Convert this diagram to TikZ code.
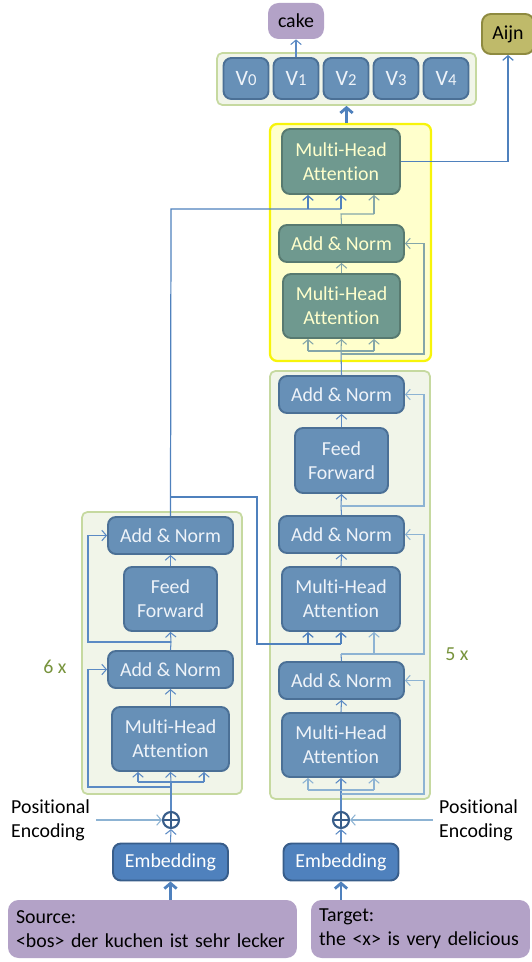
\documentclass[tikz,border=0pt]{standalone}
\usepackage{fontspec}
\setmainfont{Carlito}[Ligatures=NoCommon]
\usepackage{tikz}
\usetikzlibrary{arrows.meta}

\definecolor{bfill}{HTML}{6790B7}
\definecolor{bedge}{HTML}{4B7096}
\definecolor{btext}{HTML}{EEF3F9}
\definecolor{tfill}{HTML}{6F998F}
\definecolor{tedge}{HTML}{587A70}
\definecolor{ttext}{HTML}{FFFFCC}
\definecolor{embfill}{HTML}{4F81BD}
\definecolor{embedge}{HTML}{385D8A}
\definecolor{pfill}{HTML}{B3A2C7}
\definecolor{afill}{HTML}{BFBA6A}
\definecolor{aedge}{HTML}{8E8A40}
\definecolor{gfill}{HTML}{F1F5E9}
\definecolor{gedge}{HTML}{C6D9A0}
\definecolor{yfill}{HTML}{FFFFCC}
\definecolor{yedge}{HTML}{F7F40A}
\definecolor{lblue}{HTML}{5B8AC4}
\definecolor{rblue}{HTML}{8DB3D3}
\definecolor{tline}{HTML}{84A6A9}
\definecolor{repcol}{HTML}{77933C}

\begin{document}
\begin{tikzpicture}[x=0.02cm, y=-0.02cm,
    >={Straight Barb[length=2.6pt,width=6pt]},
    font=\fontsize{11.3}{13.6}\selectfont,
    blk/.style={draw=bedge, fill=bfill, line width=1.1pt, rounded corners=4.5pt, text=btext, align=center, inner sep=0pt},
    tbox/.style={blk, draw=tedge, fill=tfill, text=ttext},
    ebox/.style={blk, draw=embedge, fill=embfill, text=white},
    pbox/.style={fill=pfill, rounded corners=6pt, inner sep=0pt},
    panel/.style={draw=gedge, fill=gfill, line width=1pt, rounded corners=3pt, inner sep=0pt},
    lnk/.style={draw=lblue, line width=0.6pt},
    res/.style={draw=rblue, line width=0.6pt},
    tl/.style={draw=tline, line width=0.6pt},
    enc/.style={draw=embfill, line width=0.7pt},
    thk/.style={draw=embfill, line width=1.6pt, -{Straight Barb[length=3pt,width=7pt]}},
    oplus/.style={circle, draw=embedge, line width=1.2pt, minimum size=0.32cm, inner sep=0pt,
        path picture={\draw[embedge, line width=1.2pt]
            (path picture bounding box.north) -- (path picture bounding box.south)
            (path picture bounding box.west) -- (path picture bounding box.east);}},
    rep/.style={text=repcol}]

    \useasboundingbox (0,0) rectangle (531,962);

    % 输出
    \node[pbox, minimum width=1.12cm, minimum height=0.72cm] (cake) at (296,21) {cake};
    \node[draw=aedge, fill=afill, line width=1.1pt, rounded corners=5pt, inner sep=0pt,
        minimum width=1.04cm, minimum height=0.8cm] (aijn) at (508,34) {Aijn};
    \node[panel, minimum width=5.18cm, minimum height=1.04cm] (vpan) at (346.5,79) {};
    \foreach \i in {0,...,4}
        \node[blk, font=\fontsize{12.5}{14}\selectfont, minimum width=0.9cm, minimum height=0.82cm]
            (v\i) at (246+50*\i,78.5) {V{\fontsize{9.5}{10}\selectfont\i}};

    % 黄色框
    \node[draw=yedge, fill=yfill, line width=1.3pt, rounded corners=4pt, inner sep=0pt,
        minimum width=3.22cm, minimum height=4.74cm] (ybox) at (350.5,242.5) {};
    \node[tbox, minimum width=2.36cm, minimum height=1.3cm] (tmha) at (341,161.5) {Multi-Head\\Attention};
    \node[tbox, minimum width=2.5cm, minimum height=0.74cm] (tan) at (341.5,243.5) {Add \& Norm};
    \node[tbox, minimum width=2.34cm, minimum height=1.28cm] (tmha2) at (341.5,306) {Multi-Head\\Attention};

    % 解码器
    \node[panel, minimum width=3.2cm, minimum height=8.56cm] (dpan) at (350,585) {};
    \node[blk, minimum width=2.5cm, minimum height=0.74cm] (dan3) at (341.5,394.5) {Add \& Norm};
    \node[blk, minimum width=1.86cm, minimum height=1.3cm] (dff) at (341.5,460.5) {Feed\\Forward};
    \node[blk, minimum width=2.5cm, minimum height=0.74cm] (dan2) at (341.5,534.5) {Add \& Norm};
    \node[blk, minimum width=2.36cm, minimum height=1.28cm] (dmha2) at (341,599) {Multi-Head\\Attention};
    \node[blk, minimum width=2.5cm, minimum height=0.74cm] (dan1) at (341.5,680.5) {Add \& Norm};
    \node[blk, minimum width=2.36cm, minimum height=1.28cm] (dmha1) at (341,745) {Multi-Head\\Attention};
    \node[rep] (n5) at (457,654) {5 x};

    % 编码器
    \node[panel, minimum width=3.2cm, minimum height=5.64cm] (epan) at (162,653) {};
    \node[blk, minimum width=2.5cm, minimum height=0.74cm] (ean2) at (170.5,535.5) {Add \& Norm};
    \node[blk, minimum width=1.86cm, minimum height=1.28cm] (eff) at (170.5,599) {Feed\\Forward};
    \node[blk, minimum width=2.5cm, minimum height=0.74cm] (ean1) at (170.5,669.5) {Add \& Norm};
    \node[blk, minimum width=2.34cm, minimum height=1.28cm] (emha) at (170.5,739) {Multi-Head\\Attention};
    \node[rep] (n6) at (55,667) {6 x};

    % 输入
    \node[oplus] (pl1) at (171,820) {};
    \node[oplus] (pl2) at (341,820) {};
    \node[align=left, anchor=west] (pe1) at (5,820) {Positional\\Encoding};
    \node[align=left, anchor=west] (pe2) at (433,820) {Positional\\Encoding};
    \node[ebox, minimum width=2.3cm, minimum height=0.74cm] (emb1) at (170.5,862) {Embedding};
    \node[ebox, minimum width=2.3cm, minimum height=0.74cm] (emb2) at (341,862) {Embedding};
    \node[pbox, align=left, inner xsep=0.16cm, text width=5.46cm, minimum height=1.16cm] (src) at (152.5,929)
        {Source:\\<bos> der kuchen ist sehr lecker};
    \node[pbox, align=left, inner xsep=0.16cm, text width=4.06cm, minimum height=1.16cm] (tgt) at (420.5,929)
        {Target:\\the <x> is very delicious};

    % 输入连线
    \draw[thk] (emb1.south |- src.north) -- (emb1.south);
    \draw[thk] (emb2.south |- tgt.north) -- (emb2.south);
    \draw[lnk,->] (emb1.north) -- (pl1.south);
    \draw[lnk,->] (emb2.north) -- (pl2.south);
    \draw[res,->] (pe1.east) -- (pl1.west);
    \draw[res,->] (pe2.west) -- (pl2.east);

    % 编码器连线
    \coordinate (er) at (88,0);
    \coordinate (e0) at (171,787);
    \coordinate (ein) at (171,782);
    \coordinate (einl) at (138,782);
    \coordinate (einr) at (204,782);
    \draw[lnk] (pl1.north) -- (ein);
    \draw[lnk] (einl) -- (einr);
    \draw[lnk,->] (einl) -- (einl |- emha.south);
    \draw[lnk,->] (ein) -- (emha.south);
    \draw[lnk,->] (einr) -- (einr |- emha.south);
    \draw[lnk,->] (e0) -| (er |- ean1.west) -- (ean1.west);
    \draw[lnk,->] (emha.north) -- (ean1.south);
    \coordinate (e1) at (171,642);
    \draw[lnk] (ean1.north) -- (e1);
    \draw[lnk,->] (e1) -- (eff.south);
    \draw[lnk,->] (e1) -| (er |- ean2.west) -- (ean2.west);
    \draw[lnk,->] (eff.north) -- (ean2.south);

    % 编码器输出
    \coordinate (eo) at (171,209);
    \coordinate (eo2) at (171,497);
    \coordinate (ex) at (257,644);
    \coordinate (ta) at (308,209);
    \coordinate (tb) at (341,209);
    \coordinate (ma) at (308,644);
    \coordinate (mb) at (341,644);
    \draw[enc] (ean2.north) -- (eo) -- (tb);
    \draw[enc,->] (ta) -- (ta |- tmha.south);
    \draw[enc,->] (tb) -- (tb |- tmha.south);
    \draw[enc] (eo2) -| (ex) -- (mb);
    \draw[enc,->] (ma) -- (ma |- dmha2.south);
    \draw[enc,->] (mb) -- (mb |- dmha2.south);

    % 解码器连线
    \coordinate (dr) at (424,0);
    \coordinate (d0) at (341,794);
    \coordinate (din) at (341,790);
    \coordinate (dinl) at (308,790);
    \coordinate (dinr) at (374,790);
    \draw[lnk] (pl2.north) -- (din);
    \draw[res] (dinl) -- (dinr);
    \draw[res,->] (dinl) -- (dinl |- dmha1.south);
    \draw[lnk,->] (din) -- (dmha1.south);
    \draw[res,->] (dinr) -- (dinr |- dmha1.south);
    \draw[res,->] (d0) -| (dr |- dan1.east) -- (dan1.east);
    \draw[lnk,->] (dmha1.north) -- (dan1.south);
    \coordinate (d1) at (341,654);
    \coordinate (d1r) at (374,654);
    \draw[lnk] (dan1.north) -- (d1);
    \draw[res,->] (d1r) -- (d1r |- dmha2.south);
    \draw[res,->] (d1) -| (dr |- dan2.east) -- (dan2.east);
    \draw[lnk,->] (dmha2.north) -- (dan2.south);
    \coordinate (d2) at (341,506);
    \draw[lnk] (dan2.north) -- (d2);
    \draw[lnk,->] (d2) -- (dff.south);
    \draw[res,->] (d2) -| (dr |- dan3.east) -- (dan3.east);
    \draw[lnk,->] (dff.north) -- (dan3.south);

    % 黄色框连线
    \coordinate (d3) at (341,351);
    \coordinate (d3b) at (341,354);
    \coordinate (d3l) at (308,351);
    \coordinate (d3r) at (374,351);
    \draw[lnk] (dan3.north) -- (d3);
    \draw[tl] (d3l) -- (d3r);
    \draw[tl,->] (d3l) -- (d3l |- tmha2.south);
    \draw[tl,->] (d3) -- (tmha2.south);
    \draw[tl,->] (d3r) -- (d3r |- tmha2.south);
    \draw[tl,->] (d3b) -| (dr |- tan.east) -- (tan.east);
    \draw[tl,->] (tmha2.north) -- (tan.south);
    \coordinate (d4) at (341,214);
    \coordinate (d4r) at (374,214);
    \draw[tl] (tan.north) -- (d4) -- (d4r);
    \draw[tl,->] (d4r) -- (d4r |- tmha.south);

    % 输出连线
    \draw[enc,->] (tmha.east) -| (aijn.south);
    \draw[thk] (vpan.south |- ybox.north) -- (vpan.south);
    \draw[lnk,->] (v1.north) -- (cake.south);

\end{tikzpicture}
\end{document}
